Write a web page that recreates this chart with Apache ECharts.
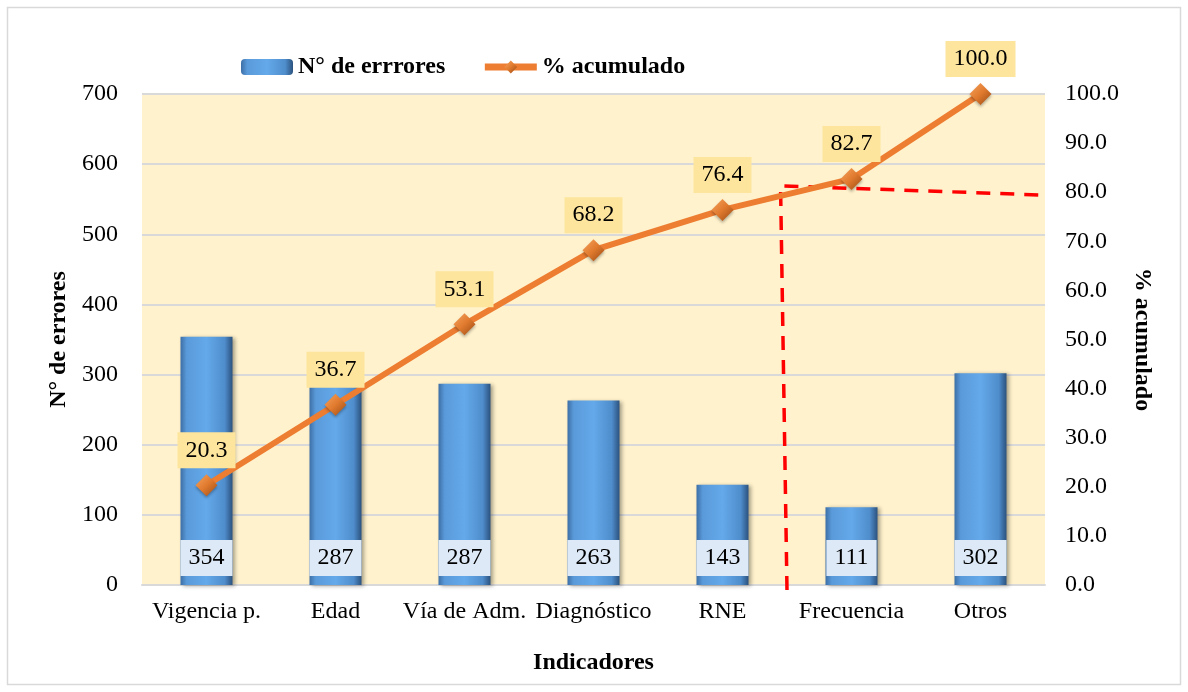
<!DOCTYPE html>
<html>
<head>
<meta charset="utf-8">
<script src="https://cdn.jsdelivr.net/npm/echarts@6/dist/echarts.min.js"></script>
<style>
  html, body { margin: 0; padding: 0; background: #fff; }
  #chart { width: 1188px; height: 692px; }
</style>
</head>
<body>
<div id="chart"></div>
<script>
// datos del grafico de pareto
var categorias = ['Vigencia p.', 'Edad', 'Vía de Adm.', 'Diagnóstico', 'RNE', 'Frecuencia', 'Otros'];
var errores = [354, 287, 287, 263, 143, 111, 302];
var acumulado = [20.3, 36.7, 53.1, 68.2, 76.4, 82.7, 100.0];
// linea de corte (indice de categoria, % acumulado)
var corteX = [4.5, 4.45, 6.5];
var corteY = [-1, 81.3, 79.4];

var serif = 'Liberation Serif';
var myChart = echarts.init(document.getElementById('chart'));

var option = {
    backgroundColor: '#fff',
    textStyle: { fontFamily: serif },
    legend: {
        left: 236,
        top: 50,
        itemWidth: 52,
        itemHeight: 16,
        itemGap: 36,
        textStyle: { fontFamily: serif, fontSize: 24, fontWeight: 'bold', color: '#000' },
        data: [
            { name: 'N° de errrores' },
            { name: '% acumulado', lineStyle: { width: 7, color: '#ed7d31' } }
        ]
    },
    grid: {
        left: 142,
        right: 143,
        top: 94,
        bottom: 107,
        show: true,
        backgroundColor: '#fff2cc',
        borderWidth: 0
    },
    xAxis: {
        type: 'category',
        data: categorias,
        name: 'Indicadores',
        nameLocation: 'middle',
        nameGap: 66,
        nameTextStyle: { fontFamily: serif, fontSize: 24, fontWeight: 'bold', color: '#000' },
        axisTick: { show: false },
        axisLine: { lineStyle: { color: '#d9d9d9', width: 2 } },
        axisLabel: { fontFamily: serif, fontSize: 24, color: '#000', margin: 15, interval: 0 }
    },
    yAxis: [{
        type: 'value',
        min: 0,
        max: 700,
        interval: 100,
        name: 'N° de errores',
        nameLocation: 'middle',
        nameGap: 64,
        nameTextStyle: { fontFamily: serif, fontSize: 24, fontWeight: 'bold', color: '#000' },
        axisLine: { show: false },
        axisTick: { show: false },
        axisLabel: { fontFamily: serif, fontSize: 24, color: '#000', margin: 24 },
        splitLine: { lineStyle: { color: '#d9d9d9', width: 2 } }
    }, {
        type: 'value',
        min: 0,
        max: 100,
        interval: 10,
        name: '% acumulado',
        nameLocation: 'middle',
        nameGap: 82,
        nameRotate: -90,
        nameTextStyle: { fontFamily: serif, fontSize: 24, fontWeight: 'bold', color: '#000' },
        axisLine: { show: false },
        axisTick: { show: false },
        axisLabel: {
            fontFamily: serif, fontSize: 24, color: '#000', margin: 20,
            formatter: function (v) { return v.toFixed(1); }
        },
        splitLine: { show: false }
    }],
    series: [{
        name: 'N° de errrores',
        type: 'bar',
        barWidth: 52,
        data: errores,
        z: 2,
        itemStyle: {
            color: new echarts.graphic.LinearGradient(0, 0, 1, 0, [
                { offset: 0, color: '#3d6fa6' },
                { offset: 0.12, color: '#5a9ada' },
                { offset: 0.5, color: '#64a9ea' },
                { offset: 0.85, color: '#4f8dcc' },
                { offset: 1, color: '#2b527e' }
            ]),
            shadowColor: 'rgba(0,0,0,0.35)',
            shadowBlur: 4,
            shadowOffsetX: 2,
            shadowOffsetY: 1
        },
        label: {
            show: true,
            position: 'insideBottom',
            distance: 9,
            fontFamily: serif,
            fontSize: 24,
            lineHeight: 26,
            color: '#000',
            backgroundColor: '#dde9f6',
            padding: [5, 8]
        }
    }, {
        name: '% acumulado',
        type: 'line',
        yAxisIndex: 1,
        data: acumulado,
        z: 5,
        symbol: 'diamond',
        symbolSize: 22,
        lineStyle: { color: '#ed7d31', width: 6 },
        itemStyle: {
            color: new echarts.graphic.LinearGradient(0, 0, 1, 1, [
                { offset: 0, color: '#f6a45e' },
                { offset: 0.5, color: '#e07a2e' },
                { offset: 1, color: '#9a4a14' }
            ]),
            shadowColor: 'rgba(0,0,0,0.3)',
            shadowBlur: 3,
            shadowOffsetY: 2
        },
        label: {
            show: true,
            position: 'top',
            distance: 6,
            fontFamily: serif,
            fontSize: 24,
            lineHeight: 26,
            color: '#000',
            backgroundColor: '#fee59d',
            padding: [5, 8],
            formatter: function (p) { return p.value.toFixed(1); }
        }
    }]
};

myChart.setOption(option);

// linea de corte roja a trazos + marco
var x0 = myChart.convertToPixel({ xAxisIndex: 0 }, categorias[0]);
var x1 = myChart.convertToPixel({ xAxisIndex: 0 }, categorias[1]);
var puntos = corteX.map(function (ix, i) {
    return [x0 + ix * (x1 - x0), myChart.convertToPixel({ yAxisIndex: 1 }, corteY[i])];
});

myChart.setOption({
    graphic: [{
        type: 'rect',
        z: -10,
        shape: { x: 7.5, y: 7.5, width: 1173, height: 677 },
        style: { fill: null, stroke: '#d9d9d9', lineWidth: 1.5 }
    }, {
        type: 'polyline',
        z: 1,
        shape: { points: puntos },
        style: { fill: null, stroke: '#ff0000', lineWidth: 3.5, lineDash: [14, 10] }
    }]
});
</script>
</body>
</html>
